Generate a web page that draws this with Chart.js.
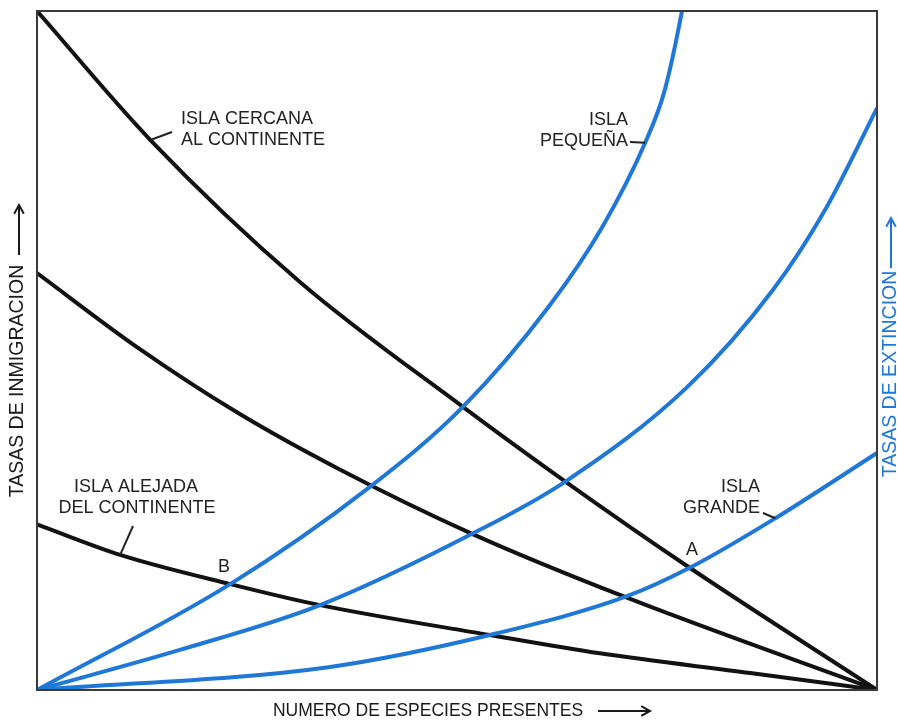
<!DOCTYPE html>
<html>
<head>
<meta charset="utf-8">
<title>Equilibrio de especies en islas</title>
<script src="https://cdn.jsdelivr.net/npm/chart.js@4"></script>
<style>
  html, body { margin: 0; padding: 0; background: #fff; }
  #wrap { width: 897px; height: 720px; }
</style>
</head>
<body>
<div id="wrap"><canvas id="islas" width="897" height="720"></canvas></div>
<script>
// Immigration curves (black): number of species vs. rate
const cercana = [[0, 100], [13.5, 81], [31.3, 60.1], [50.7, 41.7], [62.9, 30.7], [77.7, 18], [100, 0]];
const intermedia = [[0, 61.4], [11.9, 50.5], [23.8, 40.9], [35.7, 32.7], [51.8, 23], [70, 13.7], [100, 0]];
const alejada = [[0, 24.4], [9.9, 19.9], [23, 15.6], [33.7, 12.5], [53.9, 8.1], [67, 5.4], [84.9, 2.5], [100, 0]];

// Extinction curves (blue)
const pequena = [[0, 0], [23, 15.6], [39.4, 29.7], [50.7, 41.7], [61, 56.6], [67.3, 68.2], [72.4, 80.6], [74.7, 88.2], [76.8, 100.1], [77.2, 103]];
const mediana = [[0, 0], [17, 5.9], [33.7, 12.5], [51.8, 23], [62.9, 30.7], [77.4, 44.6], [87.6, 58.9], [94, 71.1], [100, 85.7]];
const grande = [[0, 0], [34.9, 3.4], [53.9, 8.1], [70, 13.7], [77.7, 18], [87.9, 25.3], [100, 34.9]];

const BLACK = '#121212';
const BLUE = '#1f77d8';
const FONT = '"Liberation Sans", Arial, sans-serif';

function serie(points, color) {
  return {
    data: points.map(p => ({ x: p[0], y: p[1] })),
    borderColor: color,
    borderWidth: 4,
    pointRadius: 0,
    fill: false,
    cubicInterpolationMode: 'monotone'
  };
}

// Arrow with an open head pointing from (x1,y1) to (x2,y2)
function arrow(ctx, x1, y1, x2, y2, color) {
  const a = Math.atan2(y2 - y1, x2 - x1);
  ctx.save();
  ctx.strokeStyle = color;
  ctx.lineWidth = 2;
  ctx.beginPath();
  ctx.moveTo(x1, y1);
  ctx.lineTo(x2, y2);
  ctx.moveTo(x2 - 10 * Math.cos(a - 0.5), y2 - 10 * Math.sin(a - 0.5));
  ctx.lineTo(x2, y2);
  ctx.lineTo(x2 - 10 * Math.cos(a + 0.5), y2 - 10 * Math.sin(a + 0.5));
  ctx.stroke();
  ctx.restore();
}

const decor = {
  id: 'decor',
  afterDatasetsDraw(chart) {
    const { ctx, chartArea: ca, scales: { x, y } } = chart;
    const px = v => x.getPixelForValue(v);
    const py = v => y.getPixelForValue(v);

    // frame
    ctx.save();
    ctx.strokeStyle = '#3a3a3a';
    ctx.lineWidth = 2;
    ctx.strokeRect(ca.left, ca.top, ca.right - ca.left, ca.bottom - ca.top);

    // curve labels
    ctx.fillStyle = '#222';
    ctx.font = '18px ' + FONT;
    ctx.textBaseline = 'middle';
    ctx.textAlign = 'left';
    ctx.fillText('ISLA CERCANA', 181, 119);
    ctx.fillText('AL CONTINENTE', 181, 140);
    ctx.textAlign = 'right';
    ctx.fillText('ISLA', 628, 120);
    ctx.fillText('PEQUEÑA', 628, 141);
    ctx.fillText('ISLA', 760, 487);
    ctx.fillText('GRANDE', 760, 508);
    ctx.textAlign = 'center';
    ctx.fillText('ISLA ALEJADA', 136, 487);
    ctx.fillText('DEL CONTINENTE', 137, 508);
    ctx.fillText('A', 692, 550);
    ctx.fillText('B', 224, 567);

    // leader lines to the curves
    ctx.strokeStyle = '#222';
    ctx.lineWidth = 2;
    const leaders = [[172, 132, 13.5, 81], [630, 142, 72.4, 80.6], [763, 513, 87.9, 25.3], [133, 526, 9.9, 19.9]];
    leaders.forEach(([lx, ly, vx, vy]) => {
      ctx.beginPath();
      ctx.moveTo(lx, ly);
      ctx.lineTo(px(vx), py(vy));
      ctx.stroke();
    });

    // axis titles
    ctx.font = '17.5px ' + FONT;
    ctx.fillStyle = '#1a1a1a';
    ctx.textAlign = 'center';
    ctx.fillText('NUMERO DE ESPECIES PRESENTES', 428, 711);
    arrow(ctx, 598, 711, 650, 711, '#1a1a1a');

    ctx.font = '19.5px ' + FONT;
    ctx.save();
    ctx.translate(18, 381);
    ctx.rotate(-Math.PI / 2);
    ctx.fillText('TASAS DE INMIGRACION', 0, 0);
    ctx.restore();
    arrow(ctx, 19, 255, 19, 205, '#1a1a1a');

    ctx.save();
    ctx.fillStyle = BLUE;
    ctx.translate(891, 374);
    ctx.rotate(-Math.PI / 2);
    ctx.fillText('TASAS DE EXTINCION', 0, 0);
    ctx.restore();
    arrow(ctx, 891, 268, 891, 218, BLUE);
    ctx.restore();
  }
};

new Chart(document.getElementById('islas'), {
  type: 'line',
  data: {
    datasets: [
      serie(pequena, BLUE),
      serie(mediana, BLUE),
      serie(grande, BLUE),
      serie(cercana, BLACK),
      serie(intermedia, BLACK),
      serie(alejada, BLACK)
    ]
  },
  options: {
    responsive: false,
    animation: false,
    layout: { padding: { left: 37, top: 11, right: 20, bottom: 30 } },
    plugins: { legend: { display: false }, tooltip: { enabled: false } },
    scales: {
      x: { type: 'linear', min: 0, max: 100, display: false },
      y: { type: 'linear', min: 0, max: 100, display: false }
    }
  },
  plugins: [decor]
});
</script>
</body>
</html>
